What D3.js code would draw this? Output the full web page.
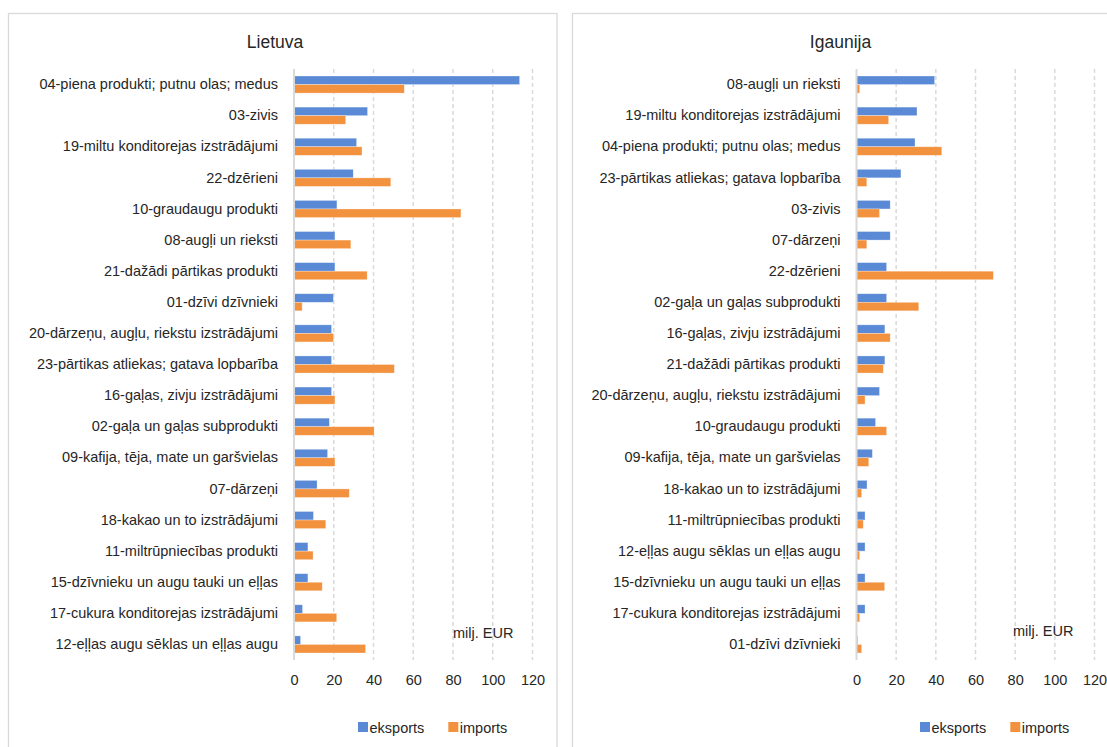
<!DOCTYPE html>
<html>
<head>
<meta charset="utf-8">
<script src="https://cdn.jsdelivr.net/npm/d3@7"></script>
<style>
  html, body { margin: 0; padding: 0; background: #ffffff; }
  svg { display: block; }
  text { font-family: "Liberation Sans", Arial, sans-serif; fill: #262626; }
</style>
</head>
<body>
<svg id="chart" width="1107" height="747"></svg>
<script>
// ---- Data ----
const lvTitle = "Lietuva";
const lvCategories = [
  "04-piena produkti; putnu olas; medus",
  "03-zivis",
  "19-miltu konditorejas izstrādājumi",
  "22-dzērieni",
  "10-graudaugu produkti",
  "08-augļi un rieksti",
  "21-dažādi pārtikas produkti",
  "01-dzīvi dzīvnieki",
  "20-dārzeņu, augļu, riekstu izstrādājumi",
  "23-pārtikas atliekas; gatava lopbarība",
  "16-gaļas, zivju izstrādājumi",
  "02-gaļa un gaļas subprodukti",
  "09-kafija, tēja, mate un garšvielas",
  "07-dārzeņi",
  "18-kakao un to izstrādājumi",
  "11-miltrūpniecības produkti",
  "15-dzīvnieku un augu tauki un eļļas",
  "17-cukura konditorejas izstrādājumi",
  "12-eļļas augu sēklas un eļļas augu"
];
const lvExports = [113.5, 37, 31.5, 29.8, 21.6, 20.6, 20.6, 19.8, 18.9, 18.9, 18.9, 17.8, 16.9, 11.6, 9.8, 7, 7, 4.3, 3.3];
const lvImports = [55.5, 26, 34.2, 48.7, 84, 28.6, 36.8, 4.1, 19.9, 50.5, 20.6, 40.3, 20.6, 27.8, 16, 9.6, 14.2, 21.5, 36];

const eeTitle = "Igaunija";
const eeCategories = [
  "08-augļi un rieksti",
  "19-miltu konditorejas izstrādājumi",
  "04-piena produkti; putnu olas; medus",
  "23-pārtikas atliekas; gatava lopbarība",
  "03-zivis",
  "07-dārzeņi",
  "22-dzērieni",
  "02-gaļa un gaļas subprodukti",
  "16-gaļas, zivju izstrādājumi",
  "21-dažādi pārtikas produkti",
  "20-dārzeņu, augļu, riekstu izstrādājumi",
  "10-graudaugu produkti",
  "09-kafija, tēja, mate un garšvielas",
  "18-kakao un to izstrādājumi",
  "11-miltrūpniecības produkti",
  "12-eļļas augu sēklas un eļļas augu",
  "15-dzīvnieku un augu tauki un eļļas",
  "17-cukura konditorejas izstrādājumi",
  "01-dzīvi dzīvnieki"
];
const eeExports = [39.4, 30.5, 29.5, 22.4, 17, 17, 15.2, 15.2, 14.3, 14.3, 11.6, 9.6, 8, 5.3, 4.3, 4.3, 4.3, 4.3, 0.6];
const eeImports = [1.6, 16.2, 43, 5.2, 11.6, 5.2, 69, 31.4, 17, 13.5, 4.3, 15.2, 6.2, 2.6, 3.4, 1.6, 14.2, 1.6, 2.6];

const seriesNames = ["eksports", "imports"];
const xTicks = [0, 20, 40, 60, 80, 100, 120];
const unitLabel = "milj. EUR";

// ---- Style ----
const colors = { eksports: "#5a8ad5", imports: "#f2923f" };
const gridColor = "#d9d9d9";
const fontSize = 14.5;

const svg = d3.select("#chart");

function drawPanel(opts) {
  const { title, categories, exportsV, importsV, frame, xRange, yRange, titleX, unitPos, legendX } = opts;
  const g = svg.append("g");

  // frame
  g.append("rect")
    .attr("x", frame.x).attr("y", frame.y)
    .attr("width", frame.w).attr("height", frame.h)
    .attr("fill", "#fff").attr("stroke", gridColor).attr("stroke-width", 1.3);

  // title
  g.append("text")
    .attr("x", titleX).attr("y", 48)
    .attr("text-anchor", "middle")
    .style("font-size", "17.5px")
    .text(title);

  const x = d3.scaleLinear().domain([0, 120]).range(xRange);
  const y = d3.scaleBand().domain(categories).range(yRange)
    .paddingInner(0.45).paddingOuter(0.225);
  const ySub = d3.scaleBand().domain(seriesNames).range([0, y.bandwidth()]);

  // grid lines
  g.append("g").selectAll("line")
    .data(xTicks.filter(t => t > 0))
    .join("line")
    .attr("x1", d => x(d)).attr("x2", d => x(d))
    .attr("y1", yRange[0]).attr("y2", yRange[1])
    .attr("stroke", gridColor).attr("stroke-width", 1.5)
    .attr("stroke-dasharray", "4,3");

  // bars
  const rows = categories.map((c, i) => ({ c, eksports: exportsV[i], imports: importsV[i] }));
  const grp = g.append("g").selectAll("g")
    .data(rows).join("g")
    .attr("transform", d => `translate(0,${y(d.c)})`);
  grp.selectAll("rect")
    .data(d => seriesNames.map(s => ({ s, v: d[s] })))
    .join("rect")
    .attr("x", x(0))
    .attr("y", d => ySub(d.s))
    .attr("width", d => x(d.v) - x(0))
    .attr("height", ySub.bandwidth())
    .attr("fill", d => colors[d.s])
    .attr("stroke", "#ffffff").attr("stroke-opacity", 0.5).attr("stroke-width", 0.6);

  // vertical axis line
  g.append("line")
    .attr("x1", x(0)).attr("x2", x(0))
    .attr("y1", yRange[0]).attr("y2", yRange[1])
    .attr("stroke", gridColor).attr("stroke-width", 2);

  // category axis labels
  const yAxis = d3.axisLeft(y).tickSize(0).tickPadding(16);
  const ya = g.append("g").attr("transform", `translate(${x(0)},0)`).call(yAxis);
  ya.select(".domain").remove();
  ya.selectAll("text").style("font-size", fontSize + "px")
    .style("font-family", '"Liberation Sans", Arial, sans-serif').attr("fill", "#262626");

  // value axis labels
  const xAxis = d3.axisBottom(x).tickValues(xTicks).tickSize(0).tickPadding(0).tickFormat(d3.format("d"));
  const xa = g.append("g").attr("transform", `translate(0,${yRange[1] + 15})`).call(xAxis);
  xa.select(".domain").remove();
  xa.selectAll("text").style("font-size", fontSize + "px")
    .style("font-family", '"Liberation Sans", Arial, sans-serif').attr("fill", "#262626");

  // unit label
  g.append("text")
    .attr("x", unitPos[0]).attr("y", unitPos[1])
    .style("font-size", fontSize + "px")
    .text(unitLabel);

  // legend
  const lg = g.append("g").attr("transform", `translate(${legendX},722)`);
  let lx = 0;
  seriesNames.forEach(s => {
    lg.append("rect").attr("x", lx).attr("y", 0).attr("width", 10).attr("height", 10).attr("fill", colors[s]);
    const t = lg.append("text").attr("x", lx + 11.5).attr("y", 11)
      .style("font-size", fontSize + "px").text(s);
    lx += 11.5 + t.node().getComputedTextLength() + 24;
  });
}

drawPanel({
  title: lvTitle, categories: lvCategories, exportsV: lvExports, importsV: lvImports,
  frame: { x: 8.5, y: 13.5, w: 548.5, h: 760 },
  xRange: [294, 532.5], yRange: [69, 660],
  titleX: 275, unitPos: [453, 638], legendX: 358
});

drawPanel({
  title: eeTitle, categories: eeCategories, exportsV: eeExports, importsV: eeImports,
  frame: { x: 572.5, y: 13.5, w: 560, h: 760 },
  xRange: [856.5, 1094.5], yRange: [69, 660],
  titleX: 840.5, unitPos: [1013, 636], legendX: 920
});
</script>
</body>
</html>
